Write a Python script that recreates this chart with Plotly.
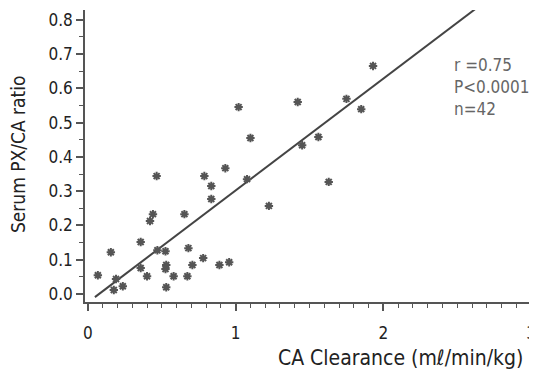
import plotly.graph_objects as go
import numpy as np

# CA clearance (ml/min/kg)
clearance = [0.067, 0.155, 0.19, 0.175, 0.236, 0.357, 0.357, 0.40, 0.42, 0.44,
             0.465, 0.47, 0.525, 0.53, 0.525, 0.53, 0.58, 0.653, 0.68, 0.673,
             0.707, 0.78, 0.788, 0.835, 0.835, 0.89, 0.93, 0.956, 1.02, 1.10,
             1.077, 1.225, 1.42, 1.45, 1.56, 1.63, 1.75, 1.85, 1.93]
# Serum PX/CA ratio
ratio = [0.055, 0.122, 0.044, 0.012, 0.023, 0.152, 0.076, 0.052, 0.213, 0.233,
         0.344, 0.128, 0.125, 0.085, 0.073, 0.020, 0.052, 0.233, 0.134, 0.052,
         0.085, 0.105, 0.344, 0.315, 0.277, 0.085, 0.367, 0.093, 0.545, 0.455,
         0.335, 0.257, 0.560, 0.434, 0.458, 0.327, 0.569, 0.539, 0.665]

# regression line (as drawn)
fit_slope = 0.326
fit_intercept = -0.024
fit_x = [0.047, 2.63]

stats_text = ["r =0.75", "P<0.0001", "n=42"]
x_title = "CA Clearance (mℓ/min/kg)"
y_title = "Serum PX/CA ratio"

axis_color = "#555555"
font_family = "DejaVu Sans Condensed, DejaVu Sans, sans-serif"

fig = go.Figure()
fx = np.array(fit_x)
fig.add_trace(go.Scatter(x=fx, y=fit_slope * fx + fit_intercept, mode="lines",
                         line=dict(color="#444444", width=2), showlegend=False))
fig.add_trace(go.Scatter(x=clearance, y=ratio, mode="markers",
                         marker=dict(symbol="asterisk-open", size=7, color="#555555",
                                     line=dict(color="#555555", width=2)),
                         showlegend=False))

fig.add_annotation(text="<br>".join(stats_text), xref="paper", yref="paper",
                   x=0.812, y=0.853, xanchor="left", yanchor="top", align="left",
                   showarrow=False,
                   font=dict(family=font_family, size=17, color="#666666"))

fig.add_annotation(text=x_title, xref="paper", yref="paper",
                   x=0.697, y=-0.192, xanchor="center", yanchor="middle",
                   showarrow=False,
                   font=dict(family=font_family, size=21, color="#222222"))

fig.add_annotation(text=y_title, xref="paper", yref="paper", textangle=-90,
                   x=-0.148, y=0.507, xanchor="center", yanchor="middle",
                   showarrow=False,
                   font=dict(family=font_family, size=19, color="#222222"))

# page body has an 8px margin, so the figure is sized to fill the rest of the window
fig.update_layout(
    width=529, height=371,
    margin=dict(l=77, r=0, t=2, b=77),
    plot_bgcolor="white", paper_bgcolor="white",
    font=dict(family=font_family, size=16, color="#222222"),
    xaxis=dict(range=[-0.02, 3.04], tickvals=[0, 1, 2, 3], automargin=False,
               ticklabeloverflow="allow",
               showline=True, linecolor=axis_color, linewidth=1.5,
               ticks="outside", ticklen=7, tickcolor=axis_color, tickwidth=1.5,
               minor=dict(dtick=0.1, ticks="outside", ticklen=4,
                          tickcolor=axis_color, tickwidth=1),
               showgrid=False, zeroline=False, ticklabelstandoff=8,
               tickfont=dict(size=17)),
    yaxis=dict(range=[-0.023, 0.828], tickvals=[0, 0.1, 0.2, 0.3, 0.4, 0.5, 0.6, 0.7, 0.8],
               tickformat=".1f", automargin=False,
               showline=True, linecolor=axis_color, linewidth=1.5,
               ticks="outside", ticklen=7, tickcolor=axis_color, tickwidth=1.5,
               minor=dict(dtick=0.05, ticks="outside", ticklen=4,
                          tickcolor=axis_color, tickwidth=1),
               showgrid=False, zeroline=False,
               tickfont=dict(size=17)),
)

fig.write_html("out.html")
